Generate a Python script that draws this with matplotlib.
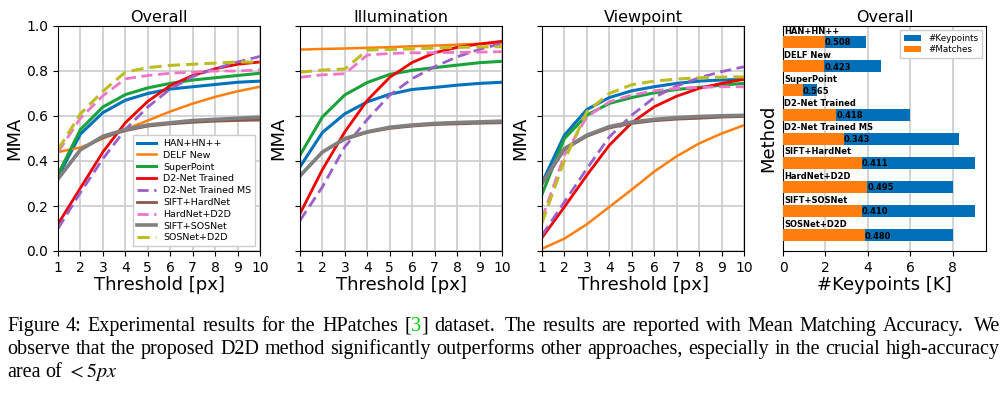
import numpy as np
import matplotlib
matplotlib.use('Agg')
import matplotlib.pyplot as plt

thresholds = list(range(1, 11))

methods = ['HAN+HN++', 'DELF New', 'SuperPoint', 'D2-Net Trained', 'D2-Net Trained MS',
           'SIFT+HardNet', 'HardNet+D2D', 'SIFT+SOSNet', 'SOSNet+D2D']

overall = {
    'HAN+HN++': [0.33, 0.52, 0.615, 0.67, 0.70, 0.72, 0.73, 0.74, 0.75, 0.755],
    'DELF New': [0.44, 0.46, 0.50, 0.54, 0.58, 0.62, 0.655, 0.685, 0.71, 0.73],
    'SuperPoint': [0.34, 0.54, 0.64, 0.695, 0.725, 0.745, 0.76, 0.77, 0.78, 0.79],
    'D2-Net Trained': [0.12, 0.28, 0.44, 0.57, 0.665, 0.735, 0.78, 0.81, 0.83, 0.84],
    'D2-Net Trained MS': [0.10, 0.26, 0.41, 0.54, 0.64, 0.72, 0.775, 0.81, 0.84, 0.865],
    'SIFT+HardNet': [0.32, 0.45, 0.505, 0.535, 0.555, 0.565, 0.572, 0.577, 0.58, 0.582],
    'HardNet+D2D': [0.44, 0.59, 0.69, 0.765, 0.78, 0.79, 0.795, 0.80, 0.80, 0.805],
    'SIFT+SOSNet': [0.32, 0.45, 0.51, 0.54, 0.56, 0.57, 0.58, 0.585, 0.59, 0.595],
    'SOSNet+D2D': [0.45, 0.61, 0.71, 0.795, 0.815, 0.825, 0.83, 0.835, 0.84, 0.84],
}

illumination = {
    'HAN+HN++': [0.374, 0.527, 0.61, 0.663, 0.697, 0.718, 0.727, 0.737, 0.745, 0.75],
    'DELF New': [0.895, 0.898, 0.90, 0.903, 0.906, 0.91, 0.913, 0.917, 0.921, 0.925],
    'SuperPoint': [0.426, 0.596, 0.694, 0.749, 0.785, 0.803, 0.815, 0.826, 0.837, 0.843],
    'D2-Net Trained': [0.166, 0.362, 0.53, 0.67, 0.772, 0.838, 0.881, 0.905, 0.92, 0.932],
    'D2-Net Trained MS': [0.136, 0.285, 0.463, 0.585, 0.693, 0.766, 0.819, 0.863, 0.896, 0.923],
    'SIFT+HardNet': [0.334, 0.44, 0.496, 0.527, 0.545, 0.555, 0.562, 0.565, 0.568, 0.57],
    'HardNet+D2D': [0.772, 0.783, 0.788, 0.871, 0.878, 0.881, 0.881, 0.883, 0.884, 0.886],
    'SIFT+SOSNet': [0.334, 0.44, 0.50, 0.53, 0.55, 0.56, 0.567, 0.571, 0.574, 0.577],
    'SOSNet+D2D': [0.795, 0.804, 0.809, 0.893, 0.896, 0.898, 0.902, 0.905, 0.907, 0.908],
}

viewpoint = {
    'HAN+HN++': [0.303, 0.515, 0.629, 0.682, 0.712, 0.73, 0.745, 0.755, 0.76, 0.763],
    'DELF New': [0.01, 0.055, 0.119, 0.196, 0.273, 0.353, 0.421, 0.478, 0.522, 0.559],
    'SuperPoint': [0.252, 0.50, 0.604, 0.656, 0.682, 0.703, 0.718, 0.727, 0.737, 0.745],
    'D2-Net Trained': [0.059, 0.196, 0.337, 0.47, 0.57, 0.641, 0.688, 0.723, 0.745, 0.763],
    'D2-Net Trained MS': [0.07, 0.218, 0.366, 0.507, 0.604, 0.682, 0.733, 0.77, 0.797, 0.819],
    'SIFT+HardNet': [0.297, 0.451, 0.51, 0.547, 0.567, 0.579, 0.586, 0.59, 0.595, 0.598],
    'HardNet+D2D': [0.144, 0.426, 0.596, 0.663, 0.693, 0.712, 0.723, 0.727, 0.73, 0.73],
    'SIFT+SOSNet': [0.30, 0.455, 0.515, 0.553, 0.573, 0.585, 0.593, 0.598, 0.601, 0.603],
    'SOSNet+D2D': [0.125, 0.404, 0.619, 0.70, 0.739, 0.755, 0.764, 0.77, 0.773, 0.774],
}

keypoints = [3.90, 4.61, 1.59, 5.98, 8.30, 9.05, 8.00, 9.05, 8.00]
matches = [1.98, 1.95, 0.92, 2.52, 2.86, 3.72, 3.97, 3.72, 3.85]
ratios = ['0.508', '0.423', '0.565', '0.418', '0.343', '0.411', '0.495', '0.410', '0.480']

styles = {
    'HAN+HN++': dict(color='#0072bd', lw=2.2),
    'DELF New': dict(color='#ff7f0e', lw=1.8),
    'SuperPoint': dict(color='#1aa33a', lw=2.2),
    'D2-Net Trained': dict(color='#f00000', lw=2.0),
    'D2-Net Trained MS': dict(color='#9a5fc8', lw=2.0, ls=(0, (4, 2))),
    'SIFT+HardNet': dict(color='#8c564b', lw=2.0),
    'HardNet+D2D': dict(color='#f075c8', lw=2.0, ls=(0, (4, 2))),
    'SIFT+SOSNet': dict(color='#808080', lw=2.6),
    'SOSNet+D2D': dict(color='#bcbd22', lw=2.2, ls=(0, (4, 2))),
}

fig = plt.figure(figsize=(10.06, 3.96), dpi=100)
W, H = 1006, 396
bottom, height = 145 / H, 225 / H
lefts = [58, 300, 542]

for i, (title, data) in enumerate([('Overall', overall), ('Illumination', illumination),
                                   ('Viewpoint', viewpoint)]):
    ax = fig.add_axes([lefts[i] / W, bottom, 202 / W, height])
    for m in methods:
        ax.plot(thresholds, data[m], label=m, **styles[m])
    ax.set_xlim(1, 10)
    ax.set_ylim(0, 1)
    ax.set_xticks(thresholds)
    ax.set_yticks(np.arange(0, 1.01, 0.2))
    ax.grid(True, color='#cccccc', lw=1.2)
    ax.tick_params(labelsize=10)
    ax.set_title(title, fontsize=11.5, pad=3)
    ax.set_xlabel('Threshold [px]', fontsize=13, labelpad=1)
    ax.set_ylabel('MMA', fontsize=13, labelpad=2)
    if i > 0:
        ax.set_yticklabels([])
    if i == 0:
        ax.legend(loc='lower right', fontsize=6.8, handlelength=2.0, labelspacing=0.3,
                  borderpad=0.4, framealpha=1.0, edgecolor='#cccccc', fancybox=False)

# bar chart
ax = fig.add_axes([783 / W, bottom, 203 / W, height])
ypos = np.arange(len(methods))
ax.barh(ypos, keypoints, height=0.5, color='#0070b8', label='#Keypoints', zorder=2)
ax.barh(ypos, matches, height=0.5, color='#ff7f0e', label='#Matches', zorder=3)
for y, m, mt, r in zip(ypos, methods, matches, ratios):
    ax.text(0.05, y - 0.27, m, fontsize=6, fontweight='bold', va='bottom', ha='left', zorder=4)
    ax.text(mt, y + 0.03, r, fontsize=6, fontweight='bold', va='center', ha='left', zorder=4)
ax.set_ylim(len(methods) - 1 + 0.65, -0.67)
ax.set_xlim(0, 9.57)
ax.set_xticks([0, 2, 4, 6, 8])
ax.set_yticks([])
ax.grid(True, axis='x', color='#cccccc', lw=1.2, zorder=0)
ax.set_axisbelow(True)
ax.tick_params(labelsize=10)
ax.set_title('Overall', fontsize=11.5, pad=3)
ax.set_xlabel('#Keypoints [K]', fontsize=13, labelpad=1)
ax.set_ylabel('Method', fontsize=13, labelpad=4)
ax.legend(loc='upper right', fontsize=6.3, handlelength=2.0, labelspacing=0.3,
          borderpad=0.4, framealpha=1.0, edgecolor='#cccccc', fancybox=False)

# caption
caption = [
    ('Figure 4: Experimental results for the HPatches [3] dataset.  The results are reported '
     'with Mean Matching Accuracy.  We', 331, True),
    ('observe that the proposed D2D method significantly outperforms other approaches, '
     'especially in the crucial high-accuracy', 354, True),
    ('area of $<5px$', 377, False),
]
cap_size = 14.5
renderer = fig.canvas.get_renderer()
x_left, x_right = 7, 1000


def _word_width(txt):
    t = fig.text(0, 0, txt, fontsize=cap_size, family='Liberation Serif', math_fontfamily='stix')
    w = t.get_window_extent(renderer).width
    t.remove()
    return w


space = _word_width('a a') - _word_width('aa')
for line, ybase, justify in caption:
    words = line.split()
    widths = [_word_width(w) for w in words]
    # sentence ends get a wider gap, like LaTeX
    weights = [1.6 if w.endswith('.') else 1.0 for w in words[:-1]]
    if justify:
        unit = (x_right - x_left - sum(widths)) / sum(weights)
    else:
        unit = space
    x = x_left
    for k, (w, wd) in enumerate(zip(words, widths)):
        if w == '[3]':
            parts = [('[', 'black'), ('3', '#00cc00'), (']', 'black')]
        else:
            parts = [(w, 'black')]
        xp = x
        for p, c in parts:
            fig.text(xp / W, 1 - ybase / H, p, fontsize=cap_size, family='Liberation Serif',
                     math_fontfamily='stix', color=c, va='baseline', ha='left')
            xp += _word_width(p)
        if k < len(weights):
            x += wd + unit * weights[k]

fig.savefig('out.png', dpi=100)
